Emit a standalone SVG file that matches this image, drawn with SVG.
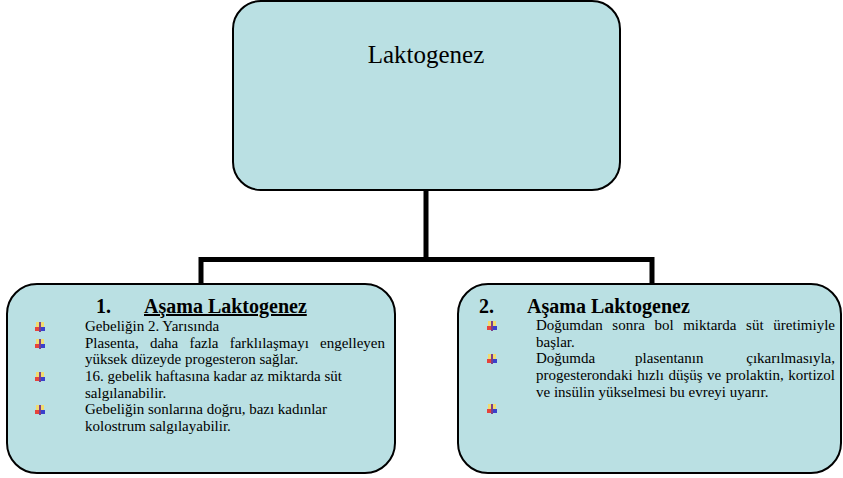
<svg xmlns="http://www.w3.org/2000/svg" xmlns:xlink="http://www.w3.org/1999/xlink" width="843" height="478" viewBox="0 0 843 478">
<style>
.box{fill:#bae0e3;stroke:#000;stroke-width:2}
.conn{fill:none;stroke:#000;stroke-width:5;stroke-linejoin:miter;stroke-linecap:square}
.t{font-family:"Liberation Serif","Times New Roman",serif;font-size:15px;fill:#000}
.h{font-family:"Liberation Serif","Times New Roman",serif;font-size:20px;font-weight:bold;fill:#000}
.title{font-family:"Liberation Serif","Times New Roman",serif;font-size:25px;fill:#000}
</style>
<defs>
<g id="bul">
<rect x="-4" y="-5" width="8" height="5" fill="#f3dc6e"/>
<rect x="-5" y="0" width="5" height="4" fill="#e5443c"/>
<rect x="0" y="0" width="5" height="4" fill="#3b40cc"/>
<rect x="-1" y="-5" width="2" height="10" fill="#7a3f8c"/>
</g>
</defs>
<g id="connectors">
<path class="conn" d="M426,190 V259.5 M201,284 V259.5 H652 V284"/>
</g>
<g id="node-root">
<rect class="box" x="233" y="1" width="387" height="189" rx="28" ry="28" stroke-width="1.5"/>
<text class="title" x="426" y="63" text-anchor="middle">Laktogenez</text>
</g>
<g id="node-stage1">
<rect class="box" x="7" y="284" width="388" height="189" rx="30" ry="30"/>
<text class="h" x="96" y="313">1.</text>
<text class="h" x="144" y="313" text-decoration="underline">Aşama Laktogenez</text>
<use xlink:href="#bul" x="40" y="327"/>
<use xlink:href="#bul" x="40" y="344"/>
<use xlink:href="#bul" x="40" y="377"/>
<use xlink:href="#bul" x="40" y="410"/>
<text class="t" x="85" y="331">Gebeliğin 2. Yarısında</text>
<text class="t" y="347.5"><tspan x="85">Plasenta,</tspan><tspan x="149.9">daha</tspan><tspan x="189.4">fazla</tspan><tspan x="229.7">farklılaşmayı</tspan></text>
<text class="t" x="385" y="347.5" text-anchor="end">engelleyen</text>
<text class="t" x="85" y="364">yüksek düzeyde progesteron sağlar.</text>
<text class="t" x="85" y="381">16. gebelik haftasına kadar az miktarda süt</text>
<text class="t" x="85" y="397.5">salgılanabilir.</text>
<text class="t" x="85" y="414">Gebeliğin sonlarına doğru, bazı kadınlar</text>
<text class="t" x="85" y="430.5">kolostrum salgılayabilir.</text>
</g>
<g id="node-stage2">
<rect class="box" x="458" y="284" width="383" height="189" rx="30" ry="30"/>
<text class="h" x="479" y="313">2.</text>
<text class="h" x="527" y="313">Aşama Laktogenez</text>
<use xlink:href="#bul" x="492" y="326"/>
<use xlink:href="#bul" x="492" y="359"/>
<use xlink:href="#bul" x="492" y="409"/>
<text class="t" y="330"><tspan x="536">Doğumdan</tspan><tspan x="612.3">sonra</tspan><tspan x="654.4">bol</tspan><tspan x="683.2">miktarda</tspan><tspan x="746.1">süt</tspan></text>
<text class="t" x="835" y="330" text-anchor="end">üretimiyle</text>
<text class="t" x="536" y="346.5">başlar.</text>
<text class="t" y="363"><tspan x="536">Doğumda</tspan><tspan x="635.1">plasentanın</tspan></text>
<text class="t" x="835" y="363" text-anchor="end">çıkarılmasıyla,</text>
<text class="t" x="536" y="379.5" word-spacing="0.8">progesterondaki hızlı düşüş ve prolaktin, kortizol</text>
<text class="t" x="536" y="396.5">ve insülin yükselmesi bu evreyi uyarır.</text>
</g>
</svg>
